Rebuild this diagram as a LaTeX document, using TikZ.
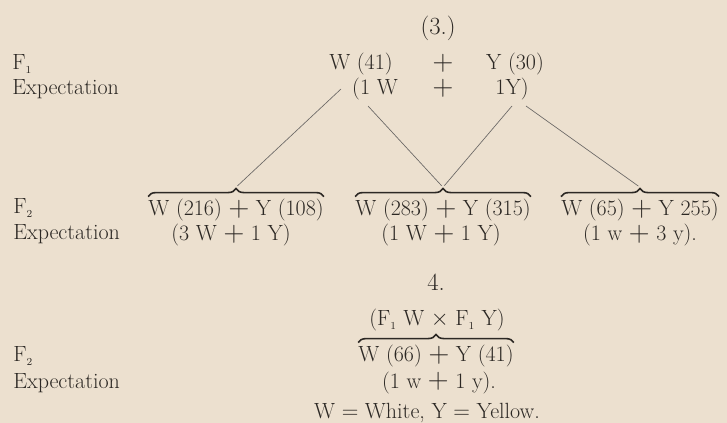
\documentclass[tikz,border=0pt]{standalone}
\usepackage{graphicx}
\usetikzlibrary{decorations.pathreplacing}
\definecolor{paper}{RGB}{236,224,207}
\definecolor{ink}{RGB}{44,40,36}
\newcommand\pl{\mathbin{\raisebox{-0.1ex}{\scalebox{1.25}{$+$}}}}
\begin{document}
\begin{tikzpicture}[x=0.75pt,y=-0.75pt,
  txt/.style={inner sep=0pt, anchor=base, text=ink, font=\fontsize{16.5}{19}\selectfont},
  head/.style={txt, font=\fontsize{18.5}{21}\selectfont},
  lbl/.style={txt, anchor=base west},
  link/.style={draw=ink!70, line width=0.5pt, shorten >=1.5pt},
  brc/.style={draw=ink, line width=1.2pt, decorate, decoration={brace, amplitude=6pt}}]
\useasboundingbox (0,0) rectangle (727,423);
\fill[paper] (0,0) rectangle (727,423);
% ---- section 3
\node[head] (h3) at (438,35) {(3.)};
\node[lbl] (f1) at (12,70) {F$_{\scriptscriptstyle 1}$};
\node[lbl] (e1) at (12,95) {Expectation};
\node[txt] (w41) at (361,70) {W (41)};
\node[txt] (p1) at (443,70) {$\pl$};
\node[txt] (y30) at (515,70) {Y (30)};
\node[txt] (w1) at (375,95) {(1 W};
\node[txt] (p2) at (443,95) {$\pl$};
\node[txt] (y1) at (512,95) {1Y)};
\node[lbl] (f2a) at (13,214) {F$_{\scriptscriptstyle 2}$};
\node[lbl] (e2a) at (13,240) {Expectation};
\node[txt] (g1) at (236,216) {W (216) $\pl$ Y (108)};
\node[txt] (g2) at (443,216) {W (283) $\pl$ Y (315)};
\node[txt] (g3) at (640,216) {W (65) $\pl$ Y 255)};
\node[txt] (x1) at (231,241) {(3 W $\pl$ 1 Y)};
\node[txt] (x2) at (441,241) {(1 W $\pl$ 1 Y)};
\node[txt] (x3) at (640,241) {(1 w $\pl$ 3 y).};
\foreach \g in {g1,g2,g3}{
  \draw[brc] ([yshift=2pt]\g.north west) -- ([yshift=2pt]\g.north east);
  \coordinate (t\g) at ([yshift=9pt]\g.north);
}
\coordinate (s1) at (341,89);
\coordinate (s2) at (368,106);
\coordinate (s3) at (512,106);
\coordinate (s4) at (526,106);
\draw[link] (s1) -- (tg1);
\draw[link] (s2) -- (tg2);
\draw[link] (s3) -- (tg2);
\draw[link] (s4) -- (tg3);
% ---- section 4
\node[head] (h4) at (436,291) {4.};
\node[txt] (cross) at (437,326) {(F$_{\scriptscriptstyle 1}$ W $\times$ F$_{\scriptscriptstyle 1}$ Y)};
\node[txt] (g4) at (436,362) {W (66) $\pl$ Y (41)};
\node[txt] (x4) at (439,388) {(1 w $\pl$ 1 y).};
\node[lbl] (f2b) at (13,362) {F$_{\scriptscriptstyle 2}$};
\node[lbl] (e2b) at (13,388) {Expectation};
\draw[brc] ([yshift=2pt]g4.north west) -- ([yshift=2pt]g4.north east);
\node[txt] (key) at (427,418) {W $=$ White, Y $=$ Yellow.};
\end{tikzpicture}
\end{document}
